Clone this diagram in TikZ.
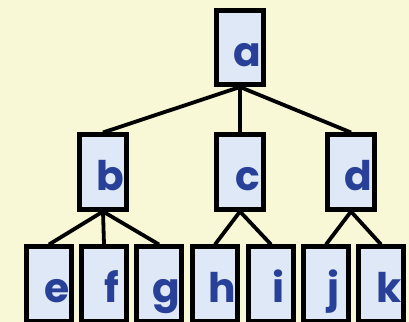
\documentclass[tikz,border=0pt]{standalone}
\usepackage{fontspec}
\setmainfont{Poppins}
\usepackage{tikz}
\usetikzlibrary{positioning}
\definecolor{paper}{RGB}{248,247,214}
\definecolor{boxfill}{RGB}{222,232,246}
\definecolor{letter}{RGB}{40,64,152}
\tikzset{
  treebox/.style={draw=black,line width=0.125cm,fill=boxfill,minimum width=1.175cm,
    minimum height=1.85cm,inner sep=0pt,text height=0.925cm,text depth=0pt,
    font=\fontsize{29}{32}\selectfont\bfseries,text=letter,
    execute at begin node={\hspace*{0.38cm}}},
  leafbox/.style={treebox,minimum width=1.1cm},
  branch/.style={line width=0.095cm}
}

\begin{document}
\begin{tikzpicture}[x=0.025cm,y=-0.025cm]
\fill[paper] (0,0) rectangle (409,322);
\useasboundingbox (0,0) rectangle (409,322);
\node[treebox] (a) at (240,47.5) {a};
\node[treebox] (b) at (103,172) {b};
\node[treebox] (c) at (240,172) {c};
\node[treebox] (d) at (351,172) {d};
\node[leafbox] (e) at (49,284) {e};
\node[leafbox] (f) at (104,284) {f};
\node[leafbox] (g) at (159,284) {g};
\node[leafbox] (h) at (215,284) {h};
\node[leafbox] (i) at (271,284) {i};
\node[leafbox] (j) at (326,284) {j};
\node[leafbox] (k) at (381,284) {k};
\draw[branch] (a.south) -- (b.north);
\draw[branch] (a.south) -- (c.north);
\draw[branch] (a.south) -- (d.north);
\draw[branch] (b.south) -- (e.north);
\draw[branch] (b.south) -- (f.north);
\draw[branch] (b.south) -- (g.north);
\draw[branch] (c.south) -- (h.north);
\draw[branch] (c.south) -- (i.north);
\draw[branch] (d.south) -- (j.north);
\draw[branch] (d.south) -- (k.north);
\end{tikzpicture}
\end{document}
